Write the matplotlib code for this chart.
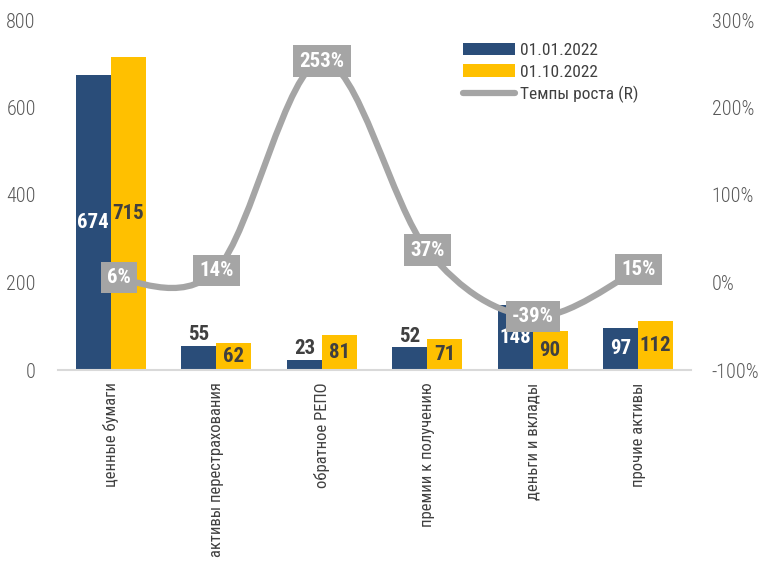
import numpy as np
import matplotlib.pyplot as plt
from matplotlib.path import Path
from matplotlib.patches import PathPatch
from matplotlib.ticker import FuncFormatter

plt.rcParams['font.family'] = ['Roboto Condensed', 'Sofia Sans Condensed', 'DejaVu Sans']

# данные
categories = ['ценные бумаги', 'активы перестрахования', 'обратное РЕПО',
              'премии к получению', 'деньги и вклады', 'прочие активы']
v_2022_01 = [674, 55, 23, 52, 148, 97]
v_2022_10 = [715, 62, 81, 71, 90, 112]
growth = [0.06, 0.14, 2.53, 0.37, -0.39, 0.15]

blue = '#2A4D79'
yellow = '#FFC000'
grey = '#A5A5A5'
dark = '#404040'

fig = plt.figure(figsize=(7.63, 5.64), dpi=100)
ax1 = fig.add_axes([58/763, 194/564, 633/763, 350/564])
ax2 = ax1.twinx()

x = np.arange(len(categories))
w = 0.33
b1 = ax1.bar(x - w/2, v_2022_01, w, color=blue, label='01.01.2022')
b2 = ax1.bar(x + w/2, v_2022_10, w, color=yellow, label='01.10.2022')

# подписи столбцов
for i, v in enumerate(v_2022_01):
    if v > 90:
        ax1.text(x[i] - w/2, v/2, str(v), ha='center', va='center', color='white',
                 fontsize=15, fontweight='bold')
    else:
        ax1.text(x[i] - w/2, v + 4, str(v), ha='center', va='bottom', color=dark,
                 fontsize=15, fontweight='bold')
for i, v in enumerate(v_2022_10):
    ax1.text(x[i] + w/2, v/2, str(v), ha='center', va='center', color=dark,
             fontsize=15, fontweight='bold')

ax1.set_xlim(-0.5, len(categories) - 0.5)
ax1.set_ylim(0, 800)
ax1.set_yticks([0, 200, 400, 600, 800])
ax2.set_ylim(-1, 3)
ax2.set_yticks([-1, 0, 1, 2, 3])
ax2.yaxis.set_major_formatter(FuncFormatter(lambda v, p: '{:.0f}%'.format(v*100)))

# сглаженная линия (как в Excel)
pts = list(zip(x.astype(float), growth))
verts = [pts[0]]
codes = [Path.MOVETO]
n = len(pts)
for i in range(n - 1):
    p0 = pts[i-1] if i > 0 else pts[i]
    p1 = pts[i]
    p2 = pts[i+1]
    p3 = pts[i+2] if i + 2 < n else pts[i+1]
    c1 = (p1[0] + (p2[0]-p0[0])/6, p1[1] + (p2[1]-p0[1])/6)
    c2 = (p2[0] - (p3[0]-p1[0])/6, p2[1] - (p3[1]-p1[1])/6)
    verts += [c1, c2, p2]
    codes += [Path.CURVE4]*3
ax2.add_patch(PathPatch(Path(verts, codes), fill=False, edgecolor=grey, lw=4.5,
                        capstyle='round'))
ax2.plot([], [], color=grey, lw=4.5, solid_capstyle='round', label='Темпы роста (R)')

offs = [0.08, 0, 0, 0, 0, 0]
for i, g in enumerate(growth):
    ax2.text(x[i] + offs[i], g, '{:.0f}%'.format(g*100), ha='center', va='center',
             color='white', fontsize=15, fontweight='bold',
             bbox=dict(boxstyle='square,pad=0.3', fc=grey, ec='none'))

for ax in (ax1, ax2):
    for s in ax.spines.values():
        s.set_visible(False)
    ax.tick_params(length=0, labelsize=14.5, colors='#595959')
    for t in ax.get_yticklabels():
        t.set_fontweight('light')
ax1.spines['bottom'].set_visible(True)
ax1.spines['bottom'].set_color('#D9D9D9')
ax1.spines['bottom'].set_linewidth(1.5)
ax1.tick_params(axis='y', pad=16)
ax2.tick_params(axis='y', pad=15)

ax1.set_xticks(x)
ax1.set_xticklabels(categories, rotation=90, fontsize=12, color=dark, va='top')
ax1.tick_params(axis='x', pad=9)

h1, l1 = ax1.get_legend_handles_labels()
h2, l2 = ax2.get_legend_handles_labels()
leg = ax1.legend(h1 + h2, l1 + l2, loc='upper left', bbox_to_anchor=(0.64, 0.935),
                 frameon=False, fontsize=12.5, handlelength=3.0, handleheight=0.75,
                 labelspacing=0.35, handletextpad=0.3, borderaxespad=0, borderpad=0)
for t in leg.get_texts():
    t.set_color(dark)

fig.savefig('out.png', dpi=100)
